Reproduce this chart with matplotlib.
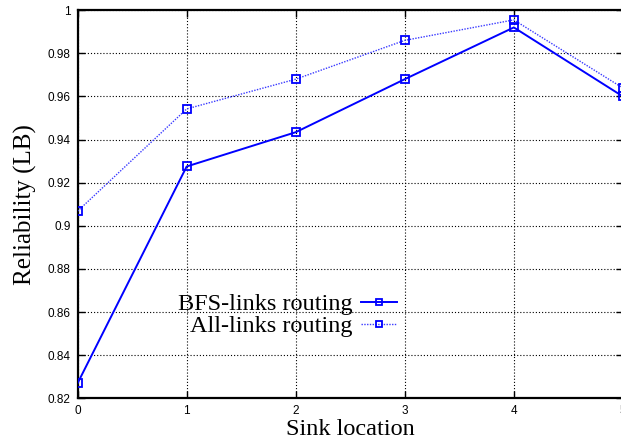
import matplotlib
matplotlib.use("Agg")
import matplotlib.pyplot as plt

sink_location = [0, 1, 2, 3, 4, 5]
bfs_links = [0.827, 0.9275, 0.9434, 0.968, 0.992, 0.960]
all_links = [0.9068, 0.9542, 0.968, 0.986, 0.9955, 0.9639]
x_ticks = [0, 1, 2, 3, 4, 5]
y_ticks = [0.82, 0.84, 0.86, 0.88, 0.90, 0.92, 0.94, 0.96, 0.98, 1.00]
y_tick_labels = ["0.82", "0.84", "0.86", "0.88", "0.9", "0.92", "0.94", "0.96", "0.98", "1"]

fig = plt.figure(figsize=(6.21, 4.43), dpi=100)
ax = fig.add_axes([0.125, 0.101, 0.878, 0.876])

ax.plot(sink_location, bfs_links, color="#0000ff", lw=1.4, ls="-",
        marker="s", ms=5.5, mfc="none", mec="#0000ff", mew=1.3,
        label="BFS-links routing", zorder=4)
ax.plot(sink_location, all_links, color="#3a3aff", lw=1.0, ls=(0, (1, 1)),
        marker="s", ms=5.5, mfc="none", mec="#0000ff", mew=1.3,
        label="All-links routing", zorder=3)

ax.set_xlim(0, 5)
ax.set_ylim(0.82, 1.0)
ax.set_xticks(x_ticks)
ax.set_xticklabels([str(t) for t in x_ticks])
ax.set_yticks(y_ticks)
ax.set_yticklabels(y_tick_labels)

ax.grid(True, color="black", ls=(0, (1, 1.8)), lw=0.8)
ax.tick_params(direction="in", length=5, width=1.0, top=True, right=True,
               labelsize=8.5, pad=5)
for lab in ax.get_xticklabels() + ax.get_yticklabels():
    lab.set_fontfamily("Liberation Sans")
for sp in ax.spines.values():
    sp.set_linewidth(1.6)
    sp.set_color("black")

serif = "Liberation Serif"
ax.set_xlabel("Sink location", fontsize=17.5, fontfamily=serif, labelpad=1)
ax.set_ylabel("Reliability (LB)", fontsize=18, fontfamily=serif, labelpad=8)

leg = ax.legend(loc="center right", bbox_to_anchor=(0.639, 0.288),
                bbox_transform=fig.transFigure, frameon=False,
                markerfirst=False, prop={"family": serif, "size": 17.5},
                handlelength=1.48, handletextpad=0.33, labelspacing=0.0,
                borderpad=0, borderaxespad=0, markerscale=0.85)
leg.set_zorder(5)

fig.savefig("out.png", dpi=100)
